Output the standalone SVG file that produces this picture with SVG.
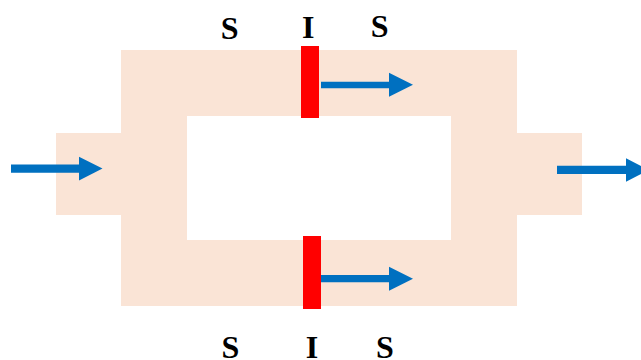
<svg xmlns="http://www.w3.org/2000/svg" width="641" height="360" viewBox="0 0 641 360">
  <style>
    .lbl { font-family: "Liberation Serif", "Times New Roman", serif; font-weight: bold; font-size: 32px; fill: #000; text-anchor: middle; }
    .bar { fill: #FF0000; }
    .arrow { fill: #0070C0; }
  </style>
  <rect width="641" height="360" fill="#FFFFFF"/>

  <!-- ring-shaped channel with inlet and outlet tabs -->
  <g id="channel">
    <path fill="#FAE4D6" fill-rule="evenodd"
          d="M56,133 H121 V50 H517 V133 H582 V215 H517 V306 H121 V215 H56 Z M187,116 H451 V240 H187 Z"/>
  </g>

  <!-- interfaces -->
  <g id="interface-top">
    <rect class="bar" x="301" y="46" width="18" height="72"/>
  </g>
  <g id="interface-bottom">
    <rect class="bar" x="303" y="236" width="18" height="73"/>
  </g>

  <!-- flow arrows -->
  <g id="connectors">
    <polygon class="arrow" points="11,164.5 79,164.5 79,156.7 102.5,168.6 79,180.6 79,172.7 11,172.7"/>
    <polygon class="arrow" points="557,165.8 626,165.8 626,158.3 649,170 626,181.7 626,174 557,174"/>
    <polygon class="arrow" points="321,81.7 389,81.7 389,72.7 413,84.7 389,96.7 389,88.3 321,88.3"/>
    <polygon class="arrow" points="321,275 389,275 389,266.7 413,278.7 389,290.7 389,282.3 321,282.3"/>
  </g>

  <!-- labels -->
  <g id="labels-top">
    <text class="lbl" x="229.7" y="38.5">S</text>
    <text class="lbl" x="308.3" y="38">I</text>
    <text class="lbl" x="379.7" y="36.8">S</text>
  </g>
  <g id="labels-bottom">
    <text class="lbl" x="230.5" y="358">S</text>
    <text class="lbl" x="312" y="358">I</text>
    <text class="lbl" x="385" y="358">S</text>
  </g>
</svg>
